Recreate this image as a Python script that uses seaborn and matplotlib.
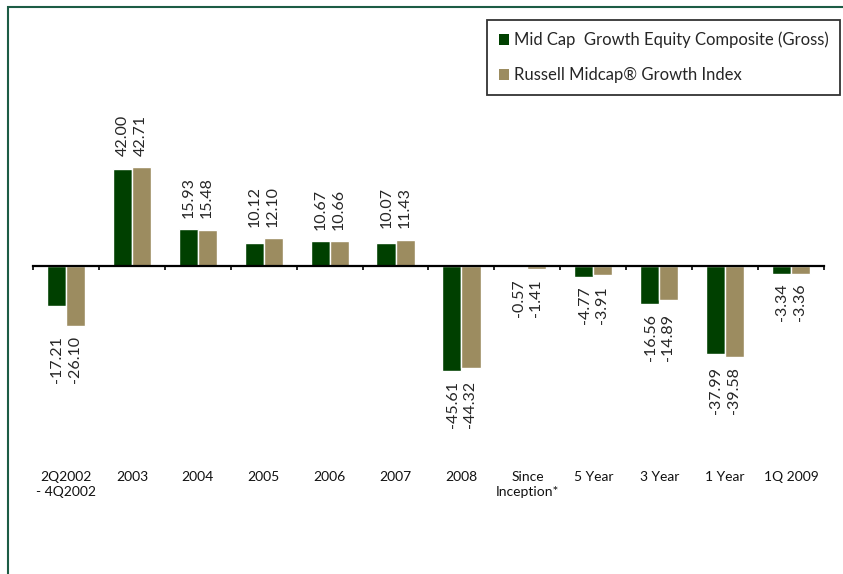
import matplotlib
matplotlib.use("Agg")
import matplotlib.pyplot as plt
import matplotlib.patches as patches
import pandas as pd
import seaborn as sns

# categories and returns (%)
periods = ["2Q2002\n- 4Q2002", "2003", "2004", "2005", "2006", "2007", "2008",
           "Since\nInception*", "5 Year", "3 Year", "1 Year", "1Q 2009"]
composite = [-17.21, 42.00, 15.93, 10.12, 10.67, 10.07, -45.61,
             -0.57, -4.77, -16.56, -37.99, -3.34]
russell = [-26.10, 42.71, 15.48, 12.10, 10.66, 11.43, -44.32,
           -1.41, -3.91, -14.89, -39.58, -3.36]
series_names = ["Mid Cap  Growth Equity Composite (Gross)",
                "Russell Midcap\u00ae Growth Index"]
colors = ["#004000", "#9c8c60"]

df = pd.DataFrame({
    "period": periods * 2,
    "value": composite + russell,
    "series": [series_names[0]] * len(periods) + [series_names[1]] * len(periods),
})

sns.set_style("white")
plt.rcParams["font.family"] = ["Lato", "DejaVu Sans"]

fig = plt.figure(figsize=(8.43, 5.74), dpi=100)
W, H = 843, 574
zero_px, scale = 266, 2.31
ylim = (-70, 70)
top_px = zero_px - ylim[1] * scale
bot_px = zero_px - ylim[0] * scale
ax = fig.add_axes([33 / W, 1 - bot_px / H, (824 - 33) / W, (bot_px - top_px) / H])

sns.barplot(data=df, x="period", y="value", hue="series", palette=colors,
            width=0.58, saturation=1, ax=ax, order=periods, hue_order=series_names)

ax.set_xlim(-0.5, len(periods) - 0.5)
ax.set_ylim(*ylim)
for s in ["top", "right", "left"]:
    ax.spines[s].set_visible(False)
ax.spines["bottom"].set_position(("data", 0))
ax.spines["bottom"].set_color("black")
ax.spines["bottom"].set_linewidth(1.6)
ax.set_xticks([i - 0.5 for i in range(len(periods) + 1)])
ax.set_xticklabels([])
ax.tick_params(axis="x", direction="out", length=3, width=1.2, color="black", bottom=True)
ax.set_yticks([])
ax.set_xlabel("")
ax.set_ylabel("")

# category labels at the bottom
for i, lab in enumerate(periods):
    ax.text(i, -0.135, lab, transform=ax.get_xaxis_transform(), ha="center", va="top",
            multialignment="center", fontsize=10, linespacing=1.25, color="#111111")

# value labels
for i, (a, b) in enumerate(zip(composite, russell)):
    txt = f"{a:.2f}\n{b:.2f}"
    if a >= 0 or b >= 0:
        y = max(a, b)
        ax.annotate(txt, (i, y), xytext=(0, 8), textcoords="offset points",
                    rotation=90, ha="center", va="bottom", multialignment="center",
                    fontsize=11.5, linespacing=1.3)
    else:
        y = min(a, b)
        ax.annotate(txt, (i, y), xytext=(0, -7), textcoords="offset points",
                    rotation=90, ha="center", va="top", multialignment="center",
                    fontsize=11.5, linespacing=1.3)

# legend
ax.legend_.remove()
handles = [patches.Patch(facecolor=c, edgecolor="none") for c in colors]
leg = fig.legend(handles, series_names, loc="upper left",
                 bbox_to_anchor=(487 / W, 1 - 20 / H), bbox_transform=fig.transFigure,
                 frameon=True, fancybox=False, edgecolor="black", fontsize=12,
                 handlelength=0.6, handleheight=0.6, handletextpad=0.3,
                 labelspacing=1.15, borderpad=0.7, borderaxespad=0)
leg.get_frame().set_linewidth(1.3)

# green outer frame (only top and left visible)
fig.patches.append(patches.Rectangle((7.5 / W, -0.2), 1.5, 1.2 - 6.5 / H,
                                     transform=fig.transFigure, fill=False,
                                     edgecolor="#1d5c45", linewidth=1.5))

fig.savefig("out.png", dpi=100)
